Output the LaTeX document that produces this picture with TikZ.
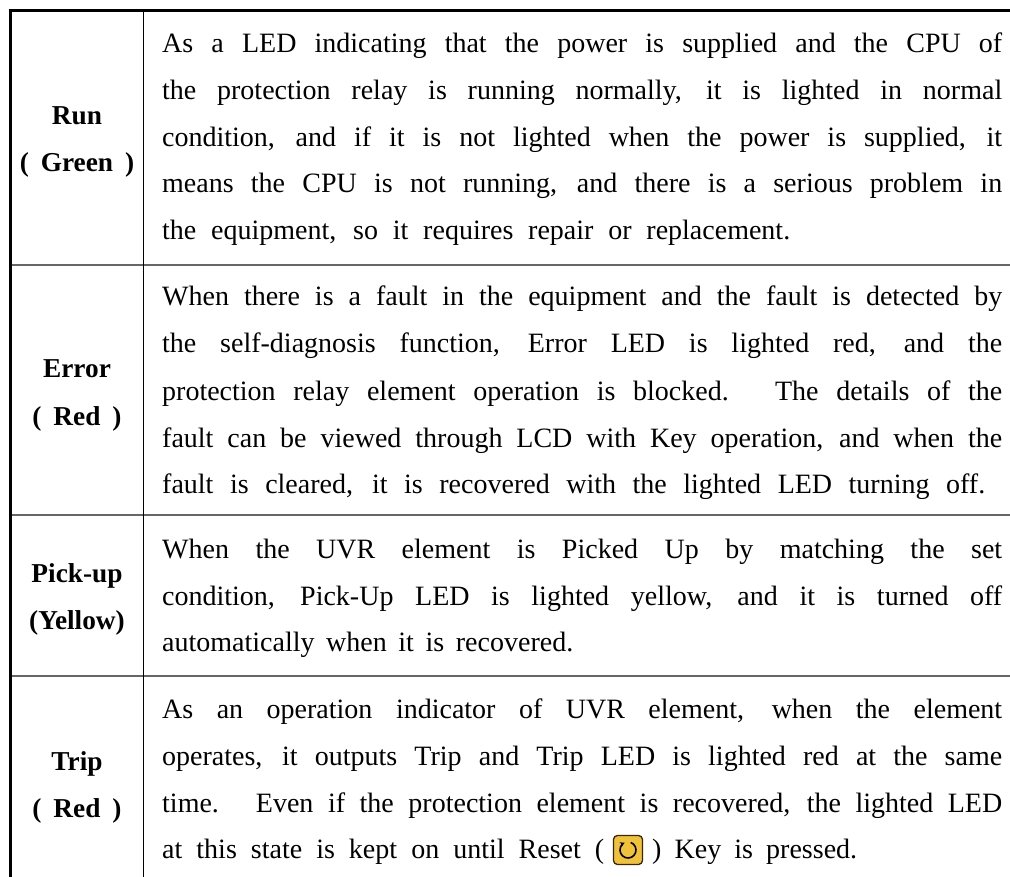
\documentclass[tikz,border=0pt]{standalone}
\usepackage{fontspec}
\setmainfont{Liberation Serif}
\usetikzlibrary{arrows.meta}
\newcommand\tline[4]{\node[txt] (#1) at (162,#2) {\makebox[#3pt][s]{#4}};}
\begin{document}
\begin{tikzpicture}[x=1pt,y=-1pt,
  txt/.style={anchor=base west, inner sep=0pt, font=\fontsize{28}{32}\selectfont},
  lbl/.style={anchor=base, inner sep=0pt, font=\fontsize{27.3}{30}\selectfont\bfseries},
  thickrule/.style={line width=3pt, black},
  colrule/.style={line width=1.5pt, black},
  rowrule/.style={line width=2pt, black!60}]
\useasboundingbox (0,0) rectangle (1010,877);
% rules
\coordinate (tl) at (8.5,11);
\coordinate (tr) at (1010,11);
\coordinate (bl) at (10,877);
\coordinate (ct) at (143.5,11);
\coordinate (cb) at (143.5,877);
\draw[rowrule] (10,265) coordinate (r1l) -- (1010,265) coordinate (r1r);
\draw[rowrule] (10,515) coordinate (r2l) -- (1010,515) coordinate (r2r);
\draw[rowrule] (10,676) coordinate (r3l) -- (1010,676) coordinate (r3r);
\draw[colrule] (ct) -- (cb);
\draw[thickrule] (tl) -- (tr);
\draw[thickrule] (10,9.5) coordinate (lt) -- (bl);
% labels
\node[lbl] (l1a) at (77,125) {Run};
\node[lbl] (l1b) at (77,172) {(\hspace{12pt}Green\hspace{12pt})};
\node[lbl] (l2a) at (77,378) {Error};
\node[lbl] (l2b) at (77,425) {(\hspace{12pt}Red\hspace{12pt})};
\node[lbl] (l3a) at (77,582) {Pick-up};
\node[lbl] (l3b) at (77,629) {(Yellow)};
\node[lbl] (l4a) at (77,770) {Trip};
\node[lbl] (l4b) at (77,817) {(\hspace{12pt}Red\hspace{12pt})};
% row 1
\tline{a1}{53}{840}{As a LED indicating that the power is supplied and the CPU of}
\tline{a2}{100}{840}{the protection relay is running normally, it is lighted in normal}
\tline{a3}{147}{840}{condition, and if it is not lighted when the power is supplied, it}
\tline{a4}{193}{840}{means the CPU is not running, and there is a serious problem in}
\tline{a5}{240}{628}{the equipment, so it requires repair or replacement.}
% row 2
\tline{b1}{306}{840}{When there is a fault in the equipment and the fault is detected by}
\tline{b2}{353}{840}{the self-diagnosis function, Error LED is lighted red, and the}
\tline{b3}{400}{840}{protection relay element operation is blocked.\hspace{5pt} The details of the}
\tline{b4}{447}{840}{fault can be viewed through LCD with Key operation, and when the}
\tline{b5}{493}{823}{fault is cleared, it is recovered with the lighted LED turning off.}
% row 3
\tline{c1}{558}{840}{When the UVR element is Picked Up by matching the set}
\tline{c2}{605}{840}{condition, Pick-Up LED is lighted yellow, and it is turned off}
\tline{c3}{651}{411}{automatically when it is recovered.}
% row 4
\tline{d1}{718}{840}{As an operation indicator of UVR element, when the element}
\tline{d2}{765}{840}{operates, it outputs Trip and Trip LED is lighted red at the same}
\tline{d3}{812}{840}{time.\hspace{5pt} Even if the protection element is recovered, the lighted LED}
\tline{d4}{858}{442}{at this state is kept on until Reset (}
\node[txt] (d4b) at (652,858) {\makebox[205pt][s]{) Key is pressed.}};
% reset key icon
\node[draw=black!70!brown, fill={rgb,255:red,240;green,194;blue,58}, line width=1.3pt,
  rounded corners=4pt, minimum size=29pt, inner sep=0pt] (reset) at (628,850) {};
\draw[line width=1.6pt, -{Stealth[length=4.5pt,width=5pt]}]
  ([shift={(-70:8)}]reset.center) arc[start angle=-70, end angle=245, radius=8];
\end{tikzpicture}
\end{document}
